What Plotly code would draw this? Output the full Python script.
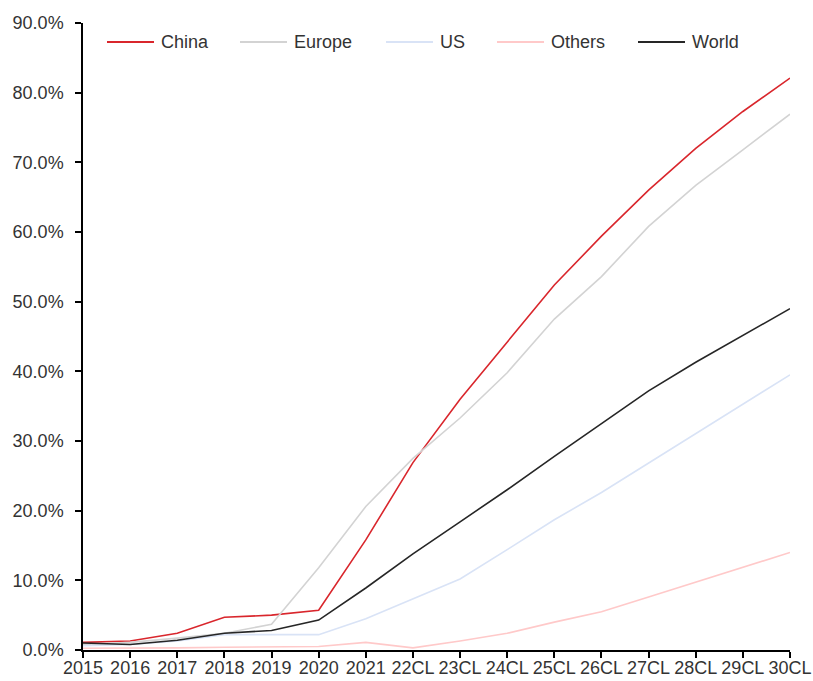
import plotly.graph_objects as go

categories = ["2015", "2016", "2017", "2018", "2019", "2020", "2021",
              "22CL", "23CL", "24CL", "25CL", "26CL", "27CL", "28CL", "29CL", "30CL"]

china = [1.1, 1.3, 2.4, 4.7, 5.0, 5.7, 15.8, 26.9, 36.0, 44.2, 52.4, 59.4, 66.0, 72.0, 77.3, 82.1]
europe = [0.8, 1.1, 1.7, 2.4, 3.7, 11.8, 20.6, 27.5, 33.3, 39.8, 47.5, 53.6, 60.8, 66.7, 71.8, 76.9]
us = [0.6, 0.8, 1.3, 2.2, 2.2, 2.2, 4.5, 7.3, 10.2, 14.4, 18.7, 22.6, 26.8, 31.0, 35.3, 39.5]
others = [0.25, 0.25, 0.3, 0.4, 0.4, 0.5, 1.1, 0.3, 1.3, 2.4, 4.0, 5.5, 7.6, 9.7, 11.9, 14.0]
world = [1.0, 0.8, 1.4, 2.4, 2.8, 4.3, 8.9, 13.8, 18.4, 23.0, 27.8, 32.5, 37.2, 41.3, 45.2, 49.0]

names = ["China", "Europe", "US", "Others", "World"]
colors = ["#d9262c", "#d3d3d3", "#d9e3f6", "#ffc9c9", "#262626"]
values = [china, europe, us, others, world]

W, H = 813, 681
ML, MR, MT, MB = 83, 23, 23, 31
PW, PH = W - ML - MR, H - MT - MB

# legend layout (pixels from left / top of the page)
legend_line_x = [107, 240, 386, 497, 638]
legend_line_len = 47
legend_gap = 5
legend_y = 42

def px_x(px):
    return (px - ML) / PW

def px_y(py):
    return (H - MB - py) / PH

fig = go.Figure()
for name, vals, color in zip(names, values, colors):
    fig.add_trace(go.Scatter(
        x=categories, y=[v / 100 for v in vals], name=name, mode="lines",
        line=dict(color=color, width=1.6), showlegend=False,
    ))

for name, color, lx in zip(names, colors, legend_line_x):
    fig.add_shape(type="line", xref="paper", yref="paper",
                  x0=px_x(lx), x1=px_x(lx + legend_line_len),
                  y0=px_y(legend_y), y1=px_y(legend_y),
                  line=dict(color=color, width=2))
    fig.add_annotation(xref="paper", yref="paper",
                       x=px_x(lx + legend_line_len + legend_gap), y=px_y(legend_y),
                       xanchor="left", yanchor="middle", text=name, showarrow=False,
                       font=dict(size=18, color="#333333"))

fig.update_layout(
    width=W, height=H,
    margin=dict(l=ML, r=MR, t=MT, b=MB),
    paper_bgcolor="white", plot_bgcolor="white",
    font=dict(family="Liberation Sans, Arial, sans-serif", size=18, color="#333333"),
    showlegend=False,
)
fig.update_xaxes(
    type="category", range=[0, len(categories) - 1], automargin=False,
    showline=True, linecolor="#000000", linewidth=1.5,
    ticks="outside", ticklen=6, tickcolor="#000000", tickwidth=1.5,
    showgrid=False, zeroline=False, tickfont=dict(size=18), ticklabelstandoff=-5,
)
fig.update_yaxes(
    range=[0, 0.9], dtick=0.1, tickformat=".1%", automargin=False,
    showline=True, linecolor="#000000", linewidth=1.5,
    ticks="outside", ticklen=6, tickcolor="#000000", tickwidth=1.5,
    showgrid=False, zeroline=False, tickfont=dict(size=18), ticklabelstandoff=8,
)

fig.write_html("out.html")
